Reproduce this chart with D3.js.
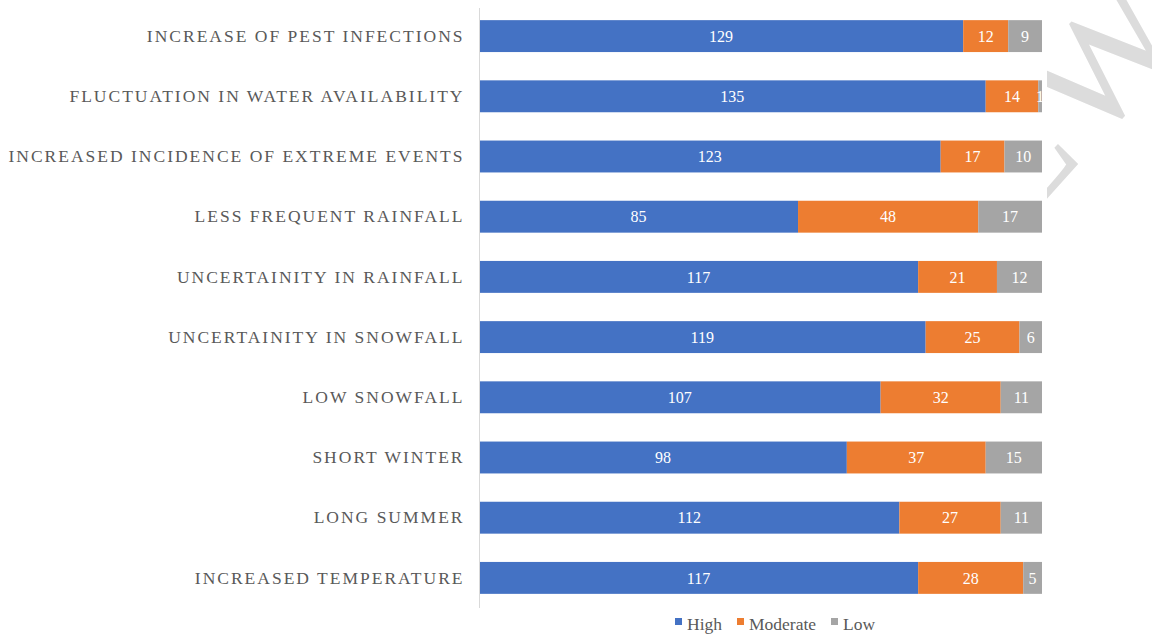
<!DOCTYPE html>
<html>
<head>
<meta charset="utf-8">
<script src="https://cdn.jsdelivr.net/npm/d3@7"></script>
<style>
  body { margin: 0; background: #fff; }
  text { font-family: "Liberation Serif", "Times New Roman", serif; }
</style>
</head>
<body>
<div id="chart"></div>
<script>
var categories = [
  "INCREASE OF PEST INFECTIONS",
  "FLUCTUATION IN WATER AVAILABILITY",
  "INCREASED INCIDENCE OF EXTREME EVENTS",
  "LESS FREQUENT RAINFALL",
  "UNCERTAINITY IN RAINFALL",
  "UNCERTAINITY IN SNOWFALL",
  "LOW SNOWFALL",
  "SHORT WINTER",
  "LONG SUMMER",
  "INCREASED TEMPERATURE"
];
var high = [129, 135, 123, 85, 117, 119, 107, 98, 112, 117];
var moderate = [12, 14, 17, 48, 21, 25, 32, 37, 27, 28];
var low = [9, 1, 10, 17, 12, 6, 11, 15, 11, 5];
var seriesNames = ["High", "Moderate", "Low"];
var colors = ["#4472C4", "#ED7D31", "#A5A5A5"];

var svgWidth = 1152;
var svgHeight = 635;

var svg = d3.select("#chart")
  .append("svg")
  .attr("width", svgWidth)
  .attr("height", svgHeight);

var defs = svg.append("defs");
defs.append("clipPath")
  .attr("id", "wmClip")
  .append("rect")
  .attr("x", 1047).attr("y", 0)
  .attr("width", 200).attr("height", svgHeight);
defs.append("clipPath")
  .attr("id", "plotClip")
  .append("rect")
  .attr("x", 0).attr("y", 0)
  .attr("width", 1042).attr("height", svgHeight);

// page watermark peeking out at the right edge
var wm = svg.append("g")
  .attr("clip-path", "url(#wmClip)")
  .append("g")
  .attr("transform", "translate(1090, 151) rotate(-48)")
  .attr("font-size", 165)
  .attr("fill", "#dcdcdc");
wm.append("text").attr("x", 0).text("W");
wm.append("text").attr("x", -8).attr("text-anchor", "end").text("E");

var rows = categories.map(function(c, i) {
  return { cat: c, High: high[i], Moderate: moderate[i], Low: low[i] };
});

var stack = d3.stack().keys(seriesNames)(rows);

var x = d3.scaleLinear()
  .domain([0, 150])
  .range([479, 1042]);

var y = d3.scaleBand()
  .domain(categories)
  .range([6, 608])
  .paddingInner(0.47)
  .paddingOuter(0.235);

var plot = svg.append("g").attr("clip-path", "url(#plotClip)");

var layers = plot.selectAll("g.layer")
  .data(stack)
  .enter()
  .append("g")
  .attr("class", "layer")
  .attr("fill", function(d, i) { return colors[i]; });

layers.selectAll("rect")
  .data(function(d) { return d; })
  .enter()
  .append("rect")
  .attr("x", function(d) { return x(d[0]); })
  .attr("y", function(d) { return y(d.data.cat); })
  .attr("width", function(d) { return x(d[1]) - x(d[0]); })
  .attr("height", y.bandwidth());

layers.selectAll("text")
  .data(function(d) { return d; })
  .enter()
  .append("text")
  .attr("x", function(d) { return (x(d[0]) + x(d[1])) / 2; })
  .attr("y", function(d) { return y(d.data.cat) + y.bandwidth() / 2; })
  .attr("dy", "0.35em")
  .attr("text-anchor", "middle")
  .attr("font-size", 16)
  .attr("fill", "#fff")
  .text(function(d) { return d[1] - d[0]; });

// category axis
var yAxis = svg.append("g")
  .attr("transform", "translate(479.5, 0)")
  .call(d3.axisLeft(y).tickSize(0).tickPadding(15));

yAxis.select(".domain")
  .attr("stroke", "#d9d9d9")
  .attr("d", "M0,8V608");

yAxis.selectAll("text")
  .attr("font-family", "Liberation Serif, serif")
  .attr("font-size", 17.5)
  .attr("letter-spacing", "2px")
  .attr("fill", "#595959");

// legend
var legendX = [675, 737, 831];
var legend = svg.append("g");
seriesNames.forEach(function(name, i) {
  legend.append("rect")
    .attr("x", legendX[i])
    .attr("y", 618)
    .attr("width", 7)
    .attr("height", 7)
    .attr("fill", colors[i]);
  legend.append("text")
    .attr("x", legendX[i] + 12)
    .attr("y", 624)
    .attr("dy", "0.35em")
    .attr("font-size", 17.5)
    .attr("fill", "#595959")
    .text(name);
});
</script>
</body>
</html>
